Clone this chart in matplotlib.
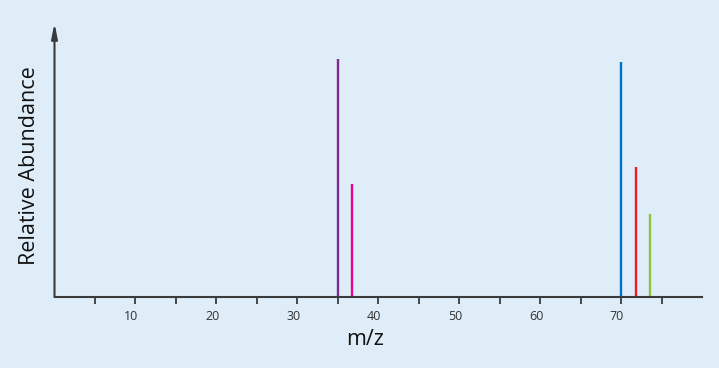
import matplotlib
matplotlib.use("Agg")
import matplotlib.pyplot as plt
import matplotlib.transforms as mtransforms

# peak positions (m/z) and relative abundances
mz = [35, 36.7, 70, 71.8, 73.6]
abundance = [100, 47.5, 98.7, 54.6, 34.9]
colors = ["#7f2a90", "#ec008c", "#0070c0", "#ed1c24", "#8cc63f"]
tick_major = [10, 20, 30, 40, 50, 60, 70]
tick_all = [5, 10, 15, 20, 25, 30, 35, 40, 45, 50, 55, 60, 65, 70, 75]

bg = "#deedf8"
axcol = "#3a3a3a"

plt.rcParams['font.family'] = ['Open Sans', 'DejaVu Sans']

fig = plt.figure(figsize=(7.19, 3.68), dpi=100, facecolor=bg)
W, H = 719, 368
x0, x1, ybase, ytop = 54.5, 702, 297, 23
ax = fig.add_axes([x0 / W, (H - ybase) / H, (x1 - x0) / W, (ybase - ytop) / H])
ax.set_facecolor(bg)

ax.vlines(mz, 0, abundance, colors=colors, lw=1.7)

ax.set_xlim(0, 80)
ax.set_ylim(0, 100 * (ybase - ytop) / 238)

for s in ["top", "right", "left"]:
    ax.spines[s].set_visible(False)
ax.spines["bottom"].set_color(axcol)
ax.spines["bottom"].set_linewidth(1.5)

# y axis drawn as an arrow
ax.annotate("", xy=(0, 1), xytext=(0, 0), xycoords="axes fraction",
            arrowprops=dict(arrowstyle="-|>,head_length=0.9,head_width=0.18",
                            color=axcol, lw=1.5, shrinkA=0, shrinkB=0))

ax.set_xticks(tick_all)
ax.set_xticklabels([str(t) if t in tick_major else "" for t in tick_all])
ax.tick_params(axis="x", direction="out", length=5, width=1.3, color=axcol,
               labelsize=9, labelcolor="#333333", pad=4)
offset = mtransforms.ScaledTranslation(-4 / 100, 0, fig.dpi_scale_trans)
for lab in ax.get_xticklabels():
    lab.set_transform(lab.get_transform() + offset)
ax.set_yticks([])

ax.set_xlabel("m/z", fontsize=15.5, color="#111111", labelpad=5)
ax.set_ylabel("Relative Abundance", fontsize=15.5, color="#111111")
ax.xaxis.set_label_coords(0.48, -0.115)
ax.yaxis.set_label_coords(-0.023, 0.48)

fig.savefig("out.png", dpi=100, facecolor=bg)
